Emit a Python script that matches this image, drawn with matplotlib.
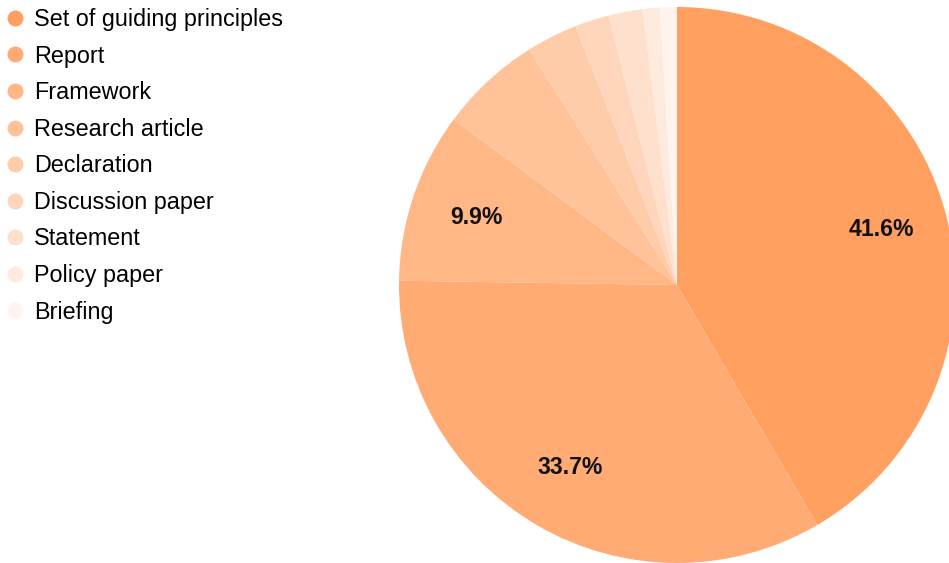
import matplotlib
matplotlib.use("Agg")
import matplotlib.pyplot as plt
from matplotlib.lines import Line2D

categories = ["Set of guiding principles", "Report", "Framework", "Research article",
              "Declaration", "Discussion paper", "Statement", "Policy paper", "Briefing"]
counts = [42, 34, 10, 6, 3, 2, 2, 1, 1]
colors = ["#FFA061", "#FFAB73", "#FFB785", "#FFC299", "#FFCCAA",
          "#FFD6BC", "#FFE0CD", "#FFEADE", "#FFF4EE"]

plt.rcParams["font.family"] = ["Liberation Sans", "DejaVu Sans"]

fig = plt.figure(figsize=(9.49, 5.63), dpi=100)
W, H = 949, 563
cx, cy, r = 677, 285, 278
ax = fig.add_axes([(cx - r) / W, (H - cy - r) / H, 2 * r / W, 2 * r / H])


def fmt(p):
    return f"{p:.1f}%" if p >= 9 else ""


wedges, texts, autotexts = ax.pie(
    counts, colors=colors, startangle=90, counterclock=False,
    autopct=fmt, pctdistance=0.76, radius=1,
    wedgeprops=dict(linewidth=0),
    textprops=dict(fontsize=16.6, fontweight="bold", color="#111111"),
)
ax.set_xlim(-1, 1)
ax.set_ylim(-1, 1)
ax.set_aspect("equal")
ax.axis("off")

handles = [Line2D([0], [0], marker="o", linestyle="none", markersize=11.5,
                  markerfacecolor=c, markeredgecolor="none") for c in colors]
fig.legend(handles, categories, loc="upper left",
           bbox_to_anchor=(3 / W, 1 - 8 / H),
           frameon=False, fontsize=16.85, labelspacing=0.58, handletextpad=0.32,
           handlelength=1.0, borderaxespad=0.0, borderpad=0.0)

fig.savefig("out.png", dpi=100)
